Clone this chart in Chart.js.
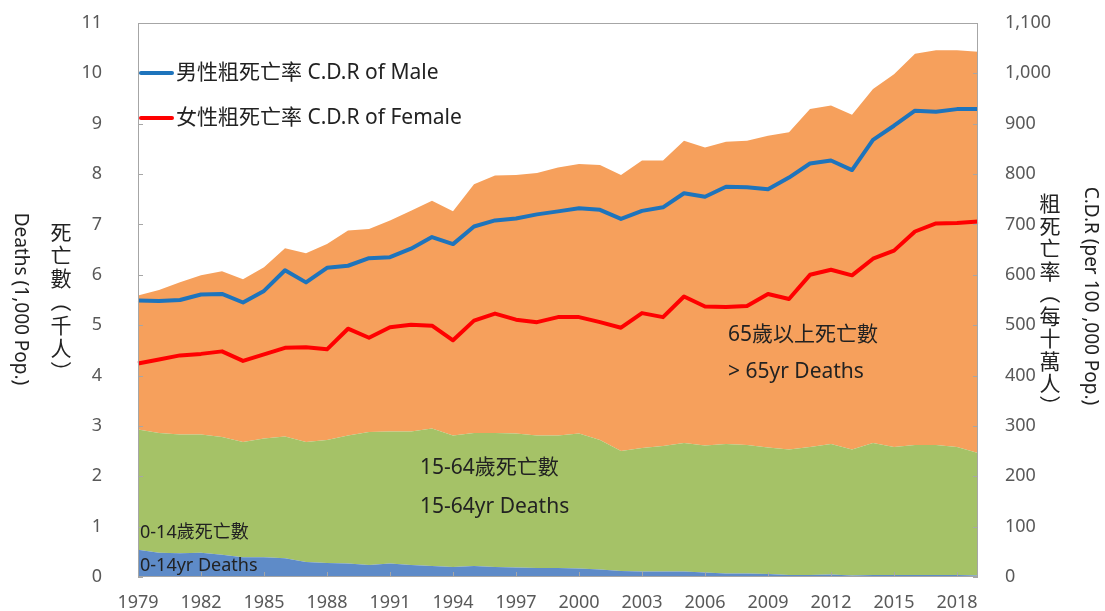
<!DOCTYPE html>
<html>
<head>
<meta charset="utf-8">
<script src="https://cdn.jsdelivr.net/npm/chart.js@4"></script>
<style>
  html, body { margin: 0; padding: 0; background: #ffffff; }
  #c { display: block; }
</style>
</head>
<body>
<canvas id="c" width="1105" height="611"></canvas>
<script>
// ---------- DATA ----------
const years = ['1979','1980','1981','1982','1983','1984','1985','1986','1987','1988',
  '1989','1990','1991','1992','1993','1994','1995','1996','1997','1998',
  '1999','2000','2001','2002','2003','2004','2005','2006','2007','2008',
  '2009','2010','2011','2012','2013','2014','2015','2016','2017','2018','2019'];

// deaths, thousands
const deaths0to14 = [0.54,0.48,0.47,0.48,0.44,0.39,0.39,0.37,0.30,0.28,
  0.27,0.24,0.27,0.24,0.22,0.20,0.22,0.20,0.19,0.18,
  0.18,0.17,0.15,0.12,0.11,0.11,0.11,0.09,0.07,0.07,
  0.06,0.04,0.04,0.05,0.03,0.04,0.04,0.04,0.04,0.04,0.03];
const deaths15to64 = [2.39,2.38,2.36,2.35,2.34,2.29,2.36,2.42,2.38,2.44,
  2.54,2.64,2.62,2.65,2.73,2.61,2.64,2.66,2.66,2.63,
  2.63,2.68,2.57,2.38,2.45,2.49,2.55,2.52,2.57,2.55,
  2.51,2.49,2.54,2.59,2.50,2.62,2.54,2.58,2.58,2.54,2.43];
const deaths65plus = [2.66,2.84,3.02,3.16,3.29,3.23,3.40,3.74,3.75,3.89,
  4.07,4.03,4.19,4.38,4.52,4.45,4.94,5.11,5.13,5.21,
  5.32,5.35,5.46,5.48,5.71,5.67,6.00,5.92,6.00,6.04,
  6.19,6.30,6.71,6.72,6.65,7.03,7.40,7.77,7.84,7.88,7.97];

// crude death rate, per 100,000
const cdrMale = [549,548,550,561,562,545,568,609,585,614,
  618,633,635,652,675,661,696,708,712,720,
  726,732,729,711,727,734,762,755,775,774,
  770,793,821,827,808,868,896,926,924,929,929];
const cdrFemale = [424,432,440,443,448,429,442,455,456,452,
  493,475,496,501,499,470,509,523,511,506,
  516,516,506,495,524,516,557,537,536,538,
  562,552,600,610,599,632,648,686,702,703,706];

const leftTicks = [0,1,2,3,4,5,6,7,8,9,10,11];
const rightTicks = [0,100,200,300,400,500,600,700,800,900,1000,1100];

const seriesNames = {
  male: '男性粗死亡率 C.D.R of Male',
  female: '女性粗死亡率 C.D.R of Female',
  young: '0-14歲死亡數',
  mid: '15-64歲死亡數',
  old: '65歲以上死亡數'
};

// ---------- STYLE ----------
const FONT = '"Noto Sans", "Noto Sans CJK TC", sans-serif';
const CJK = '"Noto Sans CJK TC", "Noto Sans", sans-serif';
const C_BLUE_LINE = '#1E74BC';
const C_RED_LINE = '#FF0000';
const C_ORANGE = '#F6A05C';
const C_GREEN = '#A5C267';
const C_BLUE_AREA = '#5E8BC8';
const C_TICK = '#595959';
const C_TEXT = '#222222';

function drawVertical(ctx, text, cx, startY, step, size) {
  ctx.save();
  ctx.font = size + 'px ' + CJK;
  ctx.fillStyle = C_TEXT;
  ctx.textAlign = 'center';
  ctx.textBaseline = 'middle';
  const chars = Array.from(text);
  chars.forEach((ch, i) => {
    const cy = startY + (i + 0.5) * step;
    if (ch === '（' || ch === '）') {
      ctx.save();
      ctx.translate(cx, cy);
      ctx.rotate(Math.PI / 2);
      ctx.fillText(ch, 0, 0);
      ctx.restore();
    } else {
      ctx.fillText(ch, cx, cy);
    }
  });
  ctx.restore();
}

function drawRotated(ctx, text, cx, cy, size) {
  ctx.save();
  ctx.font = size + 'px ' + FONT;
  ctx.fillStyle = C_TEXT;
  ctx.textAlign = 'center';
  ctx.textBaseline = 'middle';
  ctx.translate(cx, cy);
  ctx.rotate(Math.PI / 2);
  ctx.fillText(text, 0, 0);
  ctx.restore();
}

function zeroPad(s) {
  s.paddingTop = 0; s.paddingBottom = 0; s.paddingLeft = 0; s.paddingRight = 0;
}

const decorPlugin = {
  id: 'decor',
  afterDraw(chart) {
    const ctx = chart.ctx;
    const a = chart.chartArea;
    const yS = chart.scales.y, y1S = chart.scales.y1, xS = chart.scales.x;

    // plot frame
    ctx.save();
    ctx.strokeStyle = '#A6A6A6';
    ctx.lineWidth = 1;
    ctx.strokeRect(Math.round(a.left) + 0.5, Math.round(a.top) + 0.5,
      Math.round(a.right - a.left) - 1, Math.round(a.bottom - a.top) - 1);

    // inner tick marks
    ctx.beginPath();
    leftTicks.forEach(v => {
      const py = Math.round(yS.getPixelForValue(v)) + 0.5;
      ctx.moveTo(a.left, py); ctx.lineTo(a.left + 5, py);
    });
    rightTicks.forEach(v => {
      const py = Math.round(y1S.getPixelForValue(v)) + 0.5;
      ctx.moveTo(a.right, py); ctx.lineTo(a.right - 5, py);
    });
    years.forEach((yr, i) => {
      if (i % 3 === 0) {
        const px = Math.round(xS.getPixelForValue(i)) + 0.5;
        ctx.moveTo(px, a.bottom); ctx.lineTo(px, a.bottom - 5);
      }
    });
    ctx.stroke();
    ctx.restore();

    // legend (inside plot)
    const legendItems = [
      { color: C_BLUE_LINE, text: seriesNames.male, y: 73 },
      { color: C_RED_LINE, text: seriesNames.female, y: 118 }
    ];
    ctx.save();
    legendItems.forEach(it => {
      ctx.strokeStyle = it.color;
      ctx.lineWidth = 4;
      ctx.lineCap = 'round';
      ctx.beginPath();
      ctx.moveTo(141, it.y); ctx.lineTo(172, it.y);
      ctx.stroke();
      ctx.font = '21px ' + FONT;
      ctx.fillStyle = C_TEXT;
      ctx.textAlign = 'left';
      ctx.textBaseline = 'middle';
      ctx.fillText(it.text, 176, it.y);
    });
    ctx.restore();

    // in-plot labels
    ctx.save();
    ctx.fillStyle = C_TEXT;
    ctx.textAlign = 'left';
    ctx.textBaseline = 'middle';
    ctx.font = '21px ' + FONT;
    ctx.fillText(seriesNames.old, 728, 335);
    ctx.fillText('> 65yr Deaths', 728, 372);
    ctx.fillText(seriesNames.mid, 420, 468);
    ctx.fillText('15-64yr Deaths', 420, 507);
    ctx.font = '18px ' + FONT;
    ctx.fillText(seriesNames.young, 140, 533);
    ctx.fillText('0-14yr Deaths', 140, 566);
    ctx.restore();

    // axis titles
    drawRotated(ctx, 'Deaths (1,000 Pop.)', 20, 299, 19);
    drawVertical(ctx, '死亡數（千人）', 61, 220, 23.3, 21);
    drawVertical(ctx, '粗死亡率（每十萬人）', 1050, 192, 22.5, 21);
    drawRotated(ctx, 'C.D.R (per 100 ,000 Pop.)', 1090, 296, 19);
  }
};

new Chart(document.getElementById('c'), {
  type: 'line',
  data: {
    labels: years,
    datasets: [
      { label: seriesNames.male, data: cdrMale, yAxisID: 'y1', borderColor: C_BLUE_LINE,
        borderWidth: 4, pointRadius: 0, fill: false, tension: 0, borderJoinStyle: 'round' },
      { label: seriesNames.female, data: cdrFemale, yAxisID: 'y1', borderColor: C_RED_LINE,
        borderWidth: 4, pointRadius: 0, fill: false, tension: 0, borderJoinStyle: 'round' },
      { label: seriesNames.young, data: deaths0to14, yAxisID: 'y', borderWidth: 0,
        borderColor: C_BLUE_AREA, backgroundColor: C_BLUE_AREA, pointRadius: 0, fill: 'origin', tension: 0 },
      { label: seriesNames.mid, data: deaths15to64, yAxisID: 'y', borderWidth: 0,
        borderColor: C_GREEN, backgroundColor: C_GREEN, pointRadius: 0, fill: '-1', tension: 0 },
      { label: seriesNames.old, data: deaths65plus, yAxisID: 'y', borderWidth: 0,
        borderColor: C_ORANGE, backgroundColor: C_ORANGE, pointRadius: 0, fill: '-1', tension: 0 }
    ]
  },
  options: {
    responsive: false,
    animation: false,
    devicePixelRatio: 1,
    layout: { padding: { top: 23, left: 0, right: 0, bottom: 0 } },
    plugins: { legend: { display: false }, tooltip: { enabled: false } },
    scales: {
      x: {
        type: 'category',
        offset: false,
        grid: { display: false },
        border: { display: false },
        ticks: {
          autoSkip: false, maxRotation: 0, minRotation: 0, padding: 7,
          color: C_TICK, font: { family: FONT, size: 18 },
          callback: (v, i) => (i % 3 === 0 ? years[i] : '')
        },
        afterFit: s => { s.height = 34; zeroPad(s); }
      },
      y: {
        position: 'left', stacked: true, min: 0, max: 11,
        grid: { display: false }, border: { display: false },
        ticks: { stepSize: 1, padding: 28, color: C_TICK, font: { family: FONT, size: 18 } },
        afterFit: s => { s.width = 138; zeroPad(s); }
      },
      y1: {
        position: 'right', min: 0, max: 1100, stacked: false,
        grid: { display: false }, border: { display: false },
        ticks: { stepSize: 100, padding: 19, color: C_TICK, font: { family: FONT, size: 18 },
          callback: v => Number(v).toLocaleString('en-US') },
        afterFit: s => { s.width = 127; zeroPad(s); }
      }
    }
  },
  plugins: [decorPlugin]
});
</script>
</body>
</html>
